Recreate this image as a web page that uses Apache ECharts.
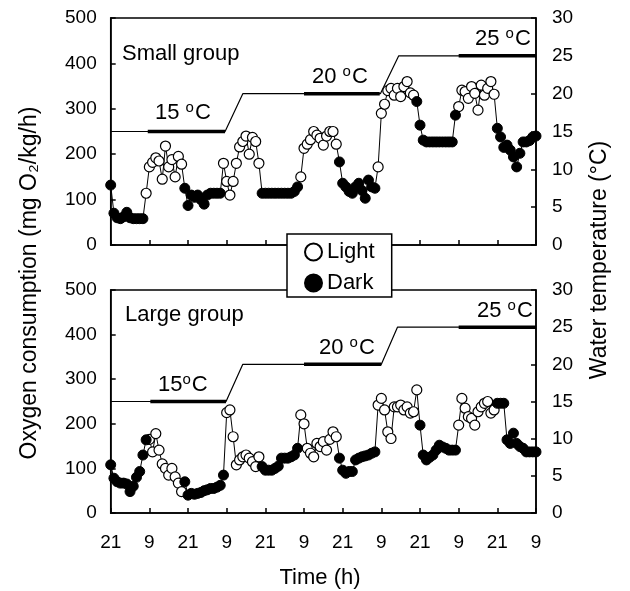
<!DOCTYPE html>
<html>
<head>
<meta charset="utf-8">
<script src="https://cdn.jsdelivr.net/npm/echarts/dist/echarts.min.js"></script>
<style>
  html, body { margin: 0; padding: 0; background: #fff; }
  #main { width: 630px; height: 591px; }
</style>
</head>
<body>
<div id="main"></div>
<script>
// hourly oxygen consumption, index = hours since first 21:00
const smallO2 = [
  132, 70, 60, 58, 62, 72, 60, 58, 58, 58, 58,
  114, 172, 182, 192, 185, 145, 218, 172, 188, 150, 195, 178,
  125, 87, 110, 105, 110, 100, 90, 110, 114, 114, 114, 114,
  180, 140, 110, 140, 180, 216, 228, 240, 200, 237, 228, 180,
  114, 114, 114, 114, 114, 114, 114, 114, 114, 114, 118, 128,
  150, 213, 222, 232, 250, 242, 235, 220, 240, 250, 250, 222,
  183, 136, 128, 118, 114, 128, 136, 120, 103, 143, 128, 125,
  172, 290, 310, 340, 345, 330, 345, 327, 349, 360, 335, 330,
  316, 264, 231, 227, 227, 227, 227, 227, 227, 227, 227, 227, 286,
  305, 341, 338, 323, 349, 334, 297, 352, 330, 345, 360, 332,
  257, 238, 215, 220, 209, 194, 172, 202, 227, 227, 230, 238, 240
];
const largeO2 = [
  108, 78, 70, 67, 67, 65, 48, 60, 80, 93, 130, 164,
  165, 137, 178, 141, 110, 100, 85, 100, 81, 67, 48,
  70, 40, 44, 42, 44, 46, 50, 52, 55, 55, 58, 62, 85,
  225, 231, 171, 108, 119, 126, 130, 123, 115, 104, 126,
  104, 96, 96, 96, 100, 105, 123, 123, 123, 126, 130, 145,
  220, 200, 145, 134, 126, 156, 149, 160, 141, 165, 182, 171,
  123, 96, 89, 93, 93, 119, 123, 126, 128, 130, 134, 137,
  242, 257, 231, 182, 167, 238, 238, 242, 231, 238, 224, 227, 276,
  197, 130, 119, 125, 130, 141, 152, 148, 145, 141, 141, 141,
  197, 257, 235, 216, 212, 197, 227, 238, 246, 250, 224, 231,
  246, 246, 246, 164, 156, 179, 156, 149, 145, 137, 137, 137, 137
];
// hours drawn as open circles (light phase)
const smallLight = [[11, 22], [35, 46], [59, 70], [83, 94], [108, 119]];
const largeLight = [[12, 22], [36, 46], [59, 70], [83, 95], [108, 119]];

// water temperature profile
const smallTempTime = [0, 35.5, 41, 83.7, 89.4, 132];
const largeTempTime = [0, 35.8, 41, 84, 89, 132];
const tempValues = [15, 15, 20, 20, 25, 25];
// measurement periods (thick segments): start, end, temperature
const smallPhases = [[11.5, 35.5, 15], [60, 83.5, 20], [108, 132, 25]];
const largePhases = [[12.3, 35.8, 15], [60, 84, 20], [108, 132, 25]];

const xTickLabels = ['21', '9'];

const FONT = 'Liberation Sans, Arial, Helvetica, sans-serif';
const chart = echarts.init(document.getElementById('main'));

function lightOf(t, periods) {
  return periods.some(p => t >= p[0] && t <= p[1]);
}

const panels = [
  { o2: smallO2, light: smallLight, tt: smallTempTime, phases: smallPhases, top: 18, height: 227 },
  { o2: largeO2, light: largeLight, tt: largeTempTime, phases: largePhases, top: 290, height: 223 }
];

const grids = [], xAxes = [], yAxes = [], series = [];
const axisLine = { show: true, lineStyle: { color: '#000', width: 1.5 } };
const axisTick = { show: true, inside: true, length: 5, lineStyle: { color: '#000', width: 1.5 } };

panels.forEach((p, g) => {
  grids.push({ left: 110.7, right: 94, top: p.top, height: p.height,
    show: true, borderColor: '#000', borderWidth: 1.5 });
  xAxes.push({
    gridIndex: g, type: 'value', min: 0, max: 132, interval: 12,
    axisLine, axisTick, splitLine: { show: false },
    axisLabel: { show: g === 1, color: '#000', fontSize: 19, fontFamily: FONT, margin: 20,
      formatter: v => xTickLabels[(v / 12) % 2] }
  });
  yAxes.push({
    gridIndex: g, type: 'value', min: 0, max: 500, interval: 100, position: 'left',
    axisLine, axisTick, splitLine: { show: false },
    axisLabel: { color: '#000', fontSize: 19, fontFamily: FONT, margin: 14 }
  });
  yAxes.push({
    gridIndex: g, type: 'value', min: 0, max: 30, interval: 5, position: 'right',
    axisLine, axisTick, splitLine: { show: false },
    axisLabel: { color: '#000', fontSize: 19, fontFamily: FONT, margin: 16 }
  });

  series.push({
    type: 'line', xAxisIndex: g, yAxisIndex: 2 * g + 1, symbol: 'none', silent: true,
    data: p.tt.map((t, i) => [t, tempValues[i]]),
    lineStyle: { color: '#000', width: 1.2 }, z: 1
  });
  p.phases.forEach(ph => {
    series.push({
      type: 'line', xAxisIndex: g, yAxisIndex: 2 * g + 1, symbol: 'none', silent: true,
      data: [[ph[0], ph[2]], [ph[1], ph[2]]],
      lineStyle: { color: '#000', width: 3.5 }, z: 1
    });
  });

  series.push({
    type: 'line', xAxisIndex: g, yAxisIndex: 2 * g, symbol: 'none', silent: true,
    data: p.o2.map((v, t) => [t, v]),
    lineStyle: { color: '#000', width: 1 }, z: 2
  });
  series.push({
    name: 'Light', type: 'scatter', xAxisIndex: g, yAxisIndex: 2 * g,
    symbol: 'circle', symbolSize: 10,
    data: p.o2.map((v, t) => [t, v]).filter(d => lightOf(d[0], p.light)),
    itemStyle: { color: '#fff', borderColor: '#000', borderWidth: 1.2, opacity: 1 }, z: 3
  });
  series.push({
    name: 'Dark', type: 'scatter', xAxisIndex: g, yAxisIndex: 2 * g,
    symbol: 'circle', symbolSize: 10,
    data: p.o2.map((v, t) => [t, v]).filter(d => !lightOf(d[0], p.light)),
    itemStyle: { color: '#000', borderColor: '#000', borderWidth: 1, opacity: 1 }, z: 3
  });
});

const rich = {
  n: { fontSize: 22, fontFamily: FONT, color: '#000', lineHeight: 22, verticalAlign: 'bottom' },
  s: { fontSize: 15, fontFamily: FONT, color: '#000', lineHeight: 15, verticalAlign: 'bottom', padding: [0, 1, 9, 0] }
};
function tempLabel(deg, gap, x, y) {
  return { type: 'text', x, y: y - 1, z: 20,
    style: { text: '{n|' + deg + gap + '}{s|o}{n|C}', rich, textAlign: 'left', textVerticalAlign: 'middle' } };
}
function label(text, x, y) {
  return { type: 'text', x, y, z: 20,
    style: { text, fill: '#000', font: '22px ' + FONT, textAlign: 'left', textVerticalAlign: 'middle' } };
}

chart.setOption({
  animation: false,
  backgroundColor: '#fff',
  grid: grids,
  xAxis: xAxes,
  yAxis: yAxes,
  series,
  legend: {
    orient: 'vertical', left: 287, top: 234,
    data: ['Light', 'Dark'],
    itemWidth: 17, itemHeight: 17, itemGap: 9, itemTextGap: 10,
    padding: [7, 17, 3, 17],
    borderColor: '#000', borderWidth: 1.5, backgroundColor: '#fff',
    textStyle: { color: '#000', fontSize: 22, fontFamily: FONT },
    selectedMode: false, z: 10
  },
  graphic: [
    label('Small group', 122, 54),
    tempLabel('15', ' ', 155, 114),
    tempLabel('20', ' ', 312, 78),
    tempLabel('25', ' ', 475, 40),
    label('Large group', 125, 315),
    tempLabel('15', '', 158, 386),
    tempLabel('20', ' ', 319, 349),
    tempLabel('25', ' ', 477, 312),
    { type: 'text', x: 320, y: 578, z: 20,
      style: { text: 'Time (h)', fill: '#000', font: '22px ' + FONT, textAlign: 'center', textVerticalAlign: 'middle' } },
    { type: 'text', x: 30, y: 283, rotation: Math.PI / 2, z: 20,
      style: { text: 'Oxygen consumption (mg O₂/kg/h)', fill: '#000', font: '23px ' + FONT, textAlign: 'center', textVerticalAlign: 'middle' } },
    { type: 'text', x: 600, y: 260, rotation: Math.PI / 2, z: 20,
      style: { text: 'Water temperature (°C)', fill: '#000', font: '23px ' + FONT, textAlign: 'center', textVerticalAlign: 'middle' } }
  ]
});
</script>
</body>
</html>
